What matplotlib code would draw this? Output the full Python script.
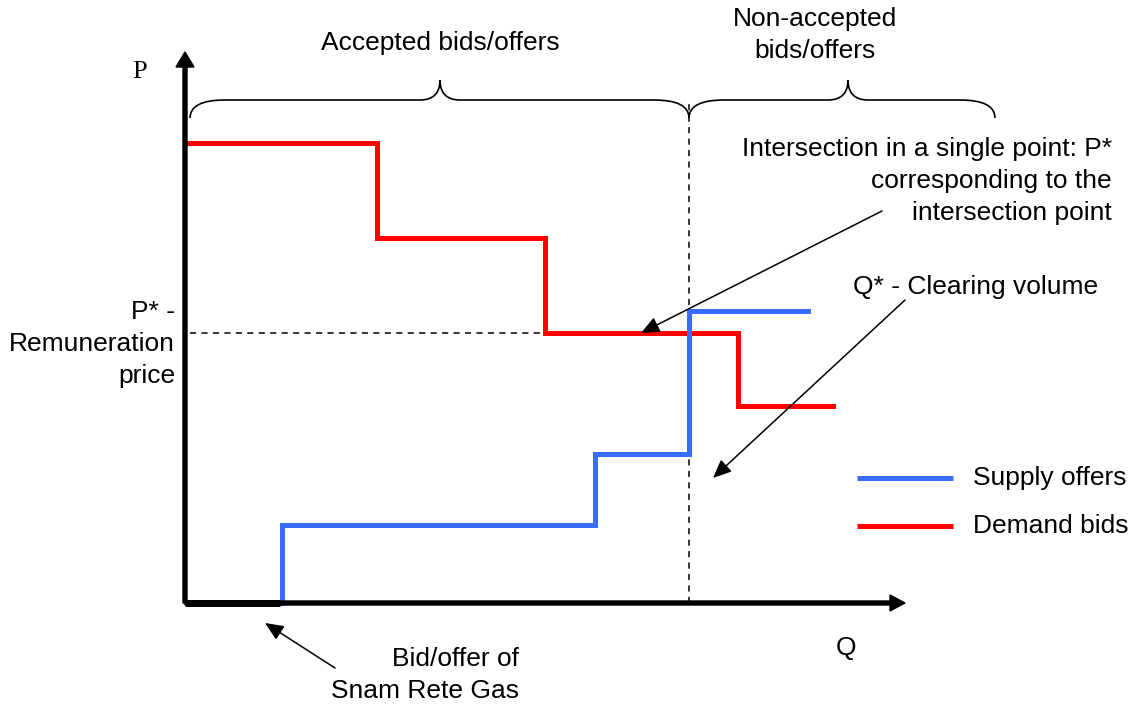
import matplotlib.pyplot as plt
import numpy as np
from matplotlib.path import Path
from matplotlib.patches import PathPatch

plt.rcParams['font.family'] = ['Liberation Sans', 'DejaVu Sans']

# demand bids (step, price holds until next quantity)
demand_q = [0, 192, 360, 553, 648]
demand_p = [460, 365, 270, 197, 197]
# supply offers
supply_q = [97, 97, 410, 504, 623]
supply_p = [0, 78, 149, 292, 292]
# Snam Rete Gas bid/offer at zero price
snam_q = [0, 95]
snam_p = [0, 0]
# clearing point
q_star = 504
p_star = 270

fig = plt.figure(figsize=(11.36, 7.04), dpi=100)
ax = fig.add_axes([0, 0, 1, 1])
ax.set_xlim(-185, 951)
ax.set_ylim(-101, 603)
ax.axis('off')

fs = 19
ls_ = 1.42

# dashed reference lines
ax.plot([5, q_star], [p_star, p_star], color='k', lw=1.1, ls=(0, (4, 3.5)))
ax.plot([q_star, q_star], [0, 503], color='k', lw=1.1, ls=(0, (4, 3.5)))

# curves
ax.step(demand_q, demand_p, where='post', color='#ff0000', lw=3.6, solid_joinstyle='miter')
ax.step(supply_q, supply_p, where='post', color='#3a6cff', lw=3.6, solid_joinstyle='miter')

# axes arrows
ax.arrow(0, 0, 0, 551, width=4, head_width=18, head_length=15,
         length_includes_head=True, color='k', zorder=5)
ax.arrow(0, 0, 720, 0, width=4, head_width=16, head_length=15,
         length_includes_head=True, color='k', zorder=5)
ax.plot(snam_q, snam_p, color='k', lw=5, solid_capstyle='butt', zorder=6)

ax.text(-45, 531, 'P', family='Liberation Serif', fontsize=fs, ha='center', va='center')
ax.text(661, -45, 'Q', fontsize=fs, ha='center', va='center')


def brace(x0, x1, xt, yb, ym, yt, r_end=35, r_mid=20):
    verts = [(x0, yb), (x0, ym), (x0 + r_end, ym),
             (xt - r_mid, ym), (xt, ym), (xt, yt),
             (xt, ym), (xt + r_mid, ym),
             (x1 - r_end, ym), (x1, ym), (x1, yb)]
    codes = [Path.MOVETO, Path.CURVE3, Path.CURVE3,
             Path.LINETO, Path.CURVE3, Path.CURVE3,
             Path.CURVE3, Path.CURVE3,
             Path.LINETO, Path.CURVE3, Path.CURVE3]
    ax.add_patch(PathPatch(Path(verts, codes), fill=False, lw=1.2, color='k'))


brace(5, q_star, 255, 485, 503, 523)
brace(q_star, 810, 663, 485, 503, 523)

ax.text(255, 560, 'Accepted bids/offers', fontsize=fs, ha='center', va='center')
ax.text(630, 568, 'Non-accepted\nbids/offers', fontsize=fs, ha='center', va='center',
        linespacing=ls_)
ax.text(927, 422, 'Intersection in a single point: P*\ncorresponding to the\nintersection point',
        fontsize=fs, ha='right', va='center', linespacing=ls_)
ax.text(668, 316, 'Q* - Clearing volume', fontsize=fs, ha='left', va='center')
ax.text(-10, 259, 'P* -\nRemuneration\nprice', fontsize=fs, ha='right', va='center',
        linespacing=ls_)
ax.text(334, -72, 'Bid/offer of\nSnam Rete Gas', fontsize=fs, ha='right', va='center',
        linespacing=ls_)

arrow_kw = dict(arrowstyle='-|>,head_length=0.8,head_width=0.35', color='k', lw=1.1,
                shrinkA=0, shrinkB=0, mutation_scale=14)
ax.annotate('', xy=(456, 270), xytext=(697, 392), arrowprops=arrow_kw)
ax.annotate('', xy=(528, 125), xytext=(720, 303), arrowprops=arrow_kw)
ax.annotate('', xy=(80, -20), xytext=(150, -65), arrowprops=arrow_kw)

# legend drawn by hand
ax.plot([672, 768], [125, 125], color='#3a6cff', lw=3.6, solid_capstyle='butt')
ax.plot([672, 768], [77, 77], color='#ff0000', lw=3.6, solid_capstyle='butt')
ax.text(788, 125, 'Supply offers', fontsize=fs, ha='left', va='center')
ax.text(788, 77, 'Demand bids', fontsize=fs, ha='left', va='center')

fig.savefig('out.png', dpi=100)
